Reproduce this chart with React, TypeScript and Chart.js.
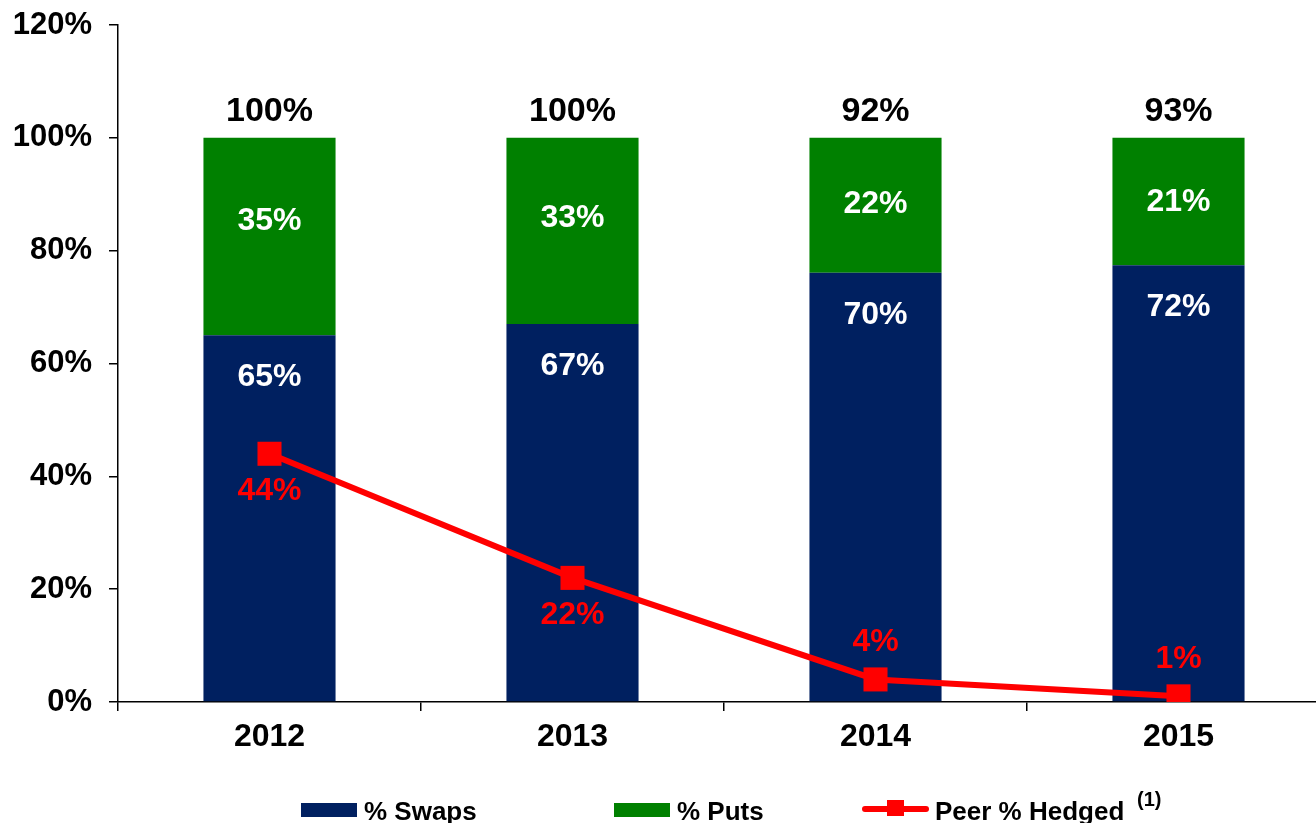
import React, { useEffect, useRef } from "react";
import { Chart, registerables } from "chart.js";

Chart.register(...registerables);

const categories = ["2012", "2013", "2014", "2015"];
const swapsPct = [65, 67, 70, 72];
const putsPct = [35, 33, 22, 21];
const totalHedged = [100, 100, 92, 93];
const peerHedged = [44, 22, 4, 1];
const yTicks = [0, 20, 40, 60, 80, 100, 120];

const NAVY = "#002060";
const GREEN = "#008000";
const RED = "#FF0000";
const FONT = "'Liberation Sans', Arial, Helvetica, sans-serif";

// bars are drawn as shares of the total hedged amount (each bar fills to 100%)
const swapShare = swapsPct.map((v, i) => (v / totalHedged[i]) * 100);
const putShare = putsPct.map((v, i) => (v / totalHedged[i]) * 100);

const labelsPlugin = {
  id: "valueLabels",
  afterDatasetsDraw(chart: any) {
    const ctx = chart.ctx;
    const mPeer = chart.getDatasetMeta(0);
    const mSw = chart.getDatasetMeta(1);
    const mPu = chart.getDatasetMeta(2);
    ctx.save();
    ctx.textAlign = "center";
    ctx.textBaseline = "middle";
    categories.forEach((_, i) => {
      const sw = mSw.data[i];
      const pu = mPu.data[i];
      const pt = mPeer.data[i];
      ctx.font = `bold 32px ${FONT}`;
      ctx.fillStyle = "#FFFFFF";
      ctx.fillText(`${swapsPct[i]}%`, sw.x, sw.y + 42);
      const segH = pu.base - pu.y;
      ctx.fillText(`${putsPct[i]}%`, pu.x, pu.y + 29 + 0.275 * segH);
      ctx.font = `bold 34px ${FONT}`;
      ctx.fillStyle = "#000000";
      ctx.fillText(`${totalHedged[i]}%`, pu.x, pu.y - 26);
      ctx.font = `bold 32px ${FONT}`;
      ctx.fillStyle = RED;
      const below = i < 2;
      ctx.fillText(`${peerHedged[i]}%`, pt.x, pt.y + (below ? 37 : -37));
    });
    ctx.restore();
  },
};

const legendPlugin = {
  id: "customLegend",
  afterDraw(chart: any) {
    const ctx = chart.ctx;
    ctx.save();
    ctx.textBaseline = "alphabetic";
    ctx.textAlign = "left";
    ctx.font = `bold 26px ${FONT}`;
    const baseY = 820;
    // swaps
    ctx.fillStyle = NAVY;
    ctx.fillRect(301, 803, 56, 14);
    ctx.fillStyle = "#000000";
    ctx.fillText("% Swaps", 364, baseY);
    // puts
    ctx.fillStyle = GREEN;
    ctx.fillRect(614, 803, 56, 14);
    ctx.fillStyle = "#000000";
    ctx.fillText("% Puts", 677, baseY);
    // peer
    ctx.strokeStyle = RED;
    ctx.lineWidth = 6;
    ctx.lineCap = "round";
    ctx.beginPath();
    ctx.moveTo(865, 809);
    ctx.lineTo(926, 809);
    ctx.stroke();
    ctx.fillStyle = RED;
    ctx.fillRect(887, 800, 17, 16);
    ctx.fillStyle = "#000000";
    ctx.fillText("Peer % Hedged", 935, baseY);
    ctx.font = `bold 20px ${FONT}`;
    ctx.fillText("(1)", 1137, 806);
    ctx.restore();
  },
};

export default function App() {
  const ref = useRef<HTMLCanvasElement | null>(null);

  useEffect(() => {
    document.body.style.margin = "0";
    document.body.style.overflow = "hidden";
    const canvas = ref.current;
    if (!canvas) return;
    Chart.defaults.font.family = FONT;
    const chart = new Chart(canvas, {
      type: "bar",
      data: {
        labels: categories,
        datasets: [
          {
            type: "line",
            label: "Peer % Hedged",
            data: peerHedged,
            borderColor: RED,
            backgroundColor: RED,
            borderWidth: 6,
            pointStyle: "rect",
            pointRadius: 17,
            pointBorderWidth: 0,
            pointBackgroundColor: RED,
            stack: "peer",
            order: 0,
            tension: 0,
          } as any,
          {
            type: "bar",
            label: "% Swaps",
            data: swapShare,
            backgroundColor: NAVY,
            stack: "bars",
            order: 1,
            barPercentage: 0.436,
            categoryPercentage: 1,
          },
          {
            type: "bar",
            label: "% Puts",
            data: putShare,
            backgroundColor: GREEN,
            stack: "bars",
            order: 2,
            barPercentage: 0.436,
            categoryPercentage: 1,
          },
        ],
      },
      options: {
        responsive: false,
        animation: false,
        devicePixelRatio: 1,
        layout: {
          autoPadding: false,
          padding: { top: 25, right: 10, left: 0, bottom: 0 },
        },
        plugins: {
          legend: { display: false },
          tooltip: { enabled: false },
        },
        scales: {
          x: {
            stacked: true,
            offset: true,
            grid: {
              offset: true,
              drawOnChartArea: false,
              drawTicks: true,
              tickLength: 9,
              color: "#000000",
              lineWidth: 1.5,
            },
            border: { display: true, color: "#000000", width: 1.5 },
            ticks: {
              color: "#000000",
              font: { size: 32, weight: "bold" },
              padding: 7,
              maxRotation: 0,
            },
            afterFit(scale: any) {
              scale.height = 121;
              scale.paddingLeft = 0;
              scale.paddingRight = 0;
              scale.paddingTop = 0;
              scale.paddingBottom = 0;
            },
          },
          y: {
            stacked: true,
            min: 0,
            max: 120,
            afterBuildTicks(scale: any) {
              scale.ticks = yTicks.map((v) => ({ value: v }));
            },
            grid: {
              drawOnChartArea: false,
              drawTicks: true,
              tickLength: 9,
              color: "#000000",
              lineWidth: 1.5,
            },
            border: { display: true, color: "#000000", width: 1.5 },
            ticks: {
              color: "#000000",
              font: { size: 31, weight: "bold" },
              padding: 17,
              callback: (v: any) => `${v}%`,
            },
            afterFit(scale: any) {
              scale.width = 118;
              scale.paddingLeft = 0;
              scale.paddingRight = 0;
              scale.paddingTop = 0;
              scale.paddingBottom = 0;
            },
          },
        },
      },
      plugins: [labelsPlugin, legendPlugin],
    });
    return () => chart.destroy();
  }, []);

  return (
    <div
      style={{
        position: "fixed",
        left: 0,
        top: 0,
        width: 1316,
        height: 823,
        overflow: "hidden",
        background: "#FFFFFF",
      }}
    >
      <canvas
        ref={ref}
        width={1340}
        height={823}
        style={{ width: 1340, height: 823, display: "block" }}
      />
    </div>
  );
}
